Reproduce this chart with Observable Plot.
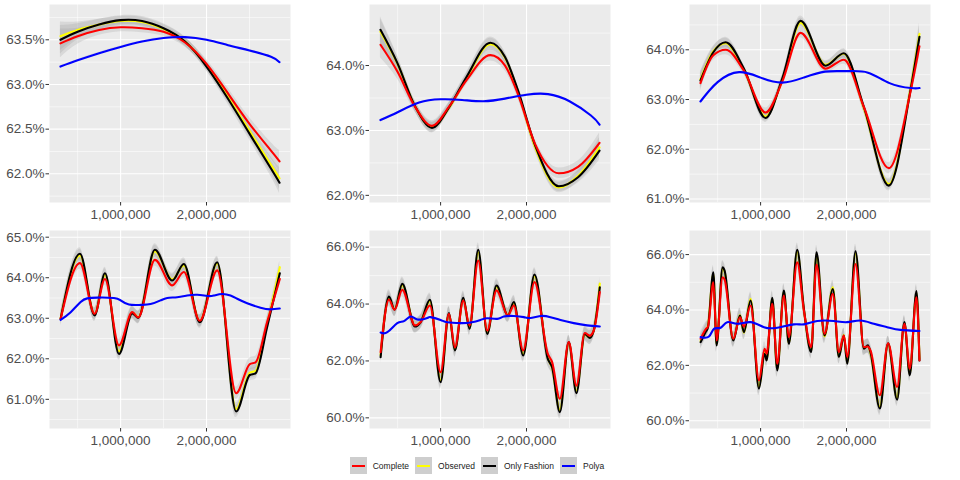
<!DOCTYPE html>
<html><head><meta charset="utf-8">
<script src="https://cdn.jsdelivr.net/npm/d3@7"></script>
<script src="https://cdn.jsdelivr.net/npm/@observablehq/plot@0.6"></script>
<style>
body{margin:0;background:#fff;}
#chart{position:relative;width:960px;height:480px;font-family:"Liberation Sans",Arial,sans-serif;overflow:hidden;}
.panel{position:absolute;}
#legend{position:absolute;top:457px;left:0;width:960px;height:17px;display:flex;justify-content:center;align-items:center;font-size:8.5px;color:#1a1a1a;}
.item{display:flex;align-items:center;margin-right:6px;}
.key{width:17px;height:17px;background:#cecece;position:relative;margin-right:6px;}
.key span{position:absolute;left:2px;right:2px;top:7.5px;height:2px;}
</style></head>
<body><div id="chart"><div id="legend"></div></div>
<script>
// ---- shared x ticks ----
const xMajor = [1000000, 2000000];
const xMinor = [500000, 1500000, 2500000];
const xDomain = [172500, 2977500];

const seriesNames = ["Complete", "Observed", "Only Fashion", "Polya"];
const seriesColors = ["#ff0000", "#ffff00", "#000000", "#0000ff"];

// ---- panel 1 ----
const p1X = [300000, 500000, 750000, 1000000, 1250000, 1500000, 1750000, 2000000, 2250000, 2500000, 2750000, 2850000];
const p1Fashion  = [63.50, 63.59, 63.67, 63.72, 63.71, 63.63, 63.48, 63.20, 62.84, 62.45, 62.06, 61.90];
const p1Observed = [63.54, 63.61, 63.67, 63.71, 63.70, 63.62, 63.48, 63.21, 62.86, 62.48, 62.10, 61.95];
const p1Complete = [63.46, 63.54, 63.61, 63.64, 63.63, 63.59, 63.47, 63.23, 62.90, 62.56, 62.26, 62.14];
const p1Se       = [0.16, 0.09, 0.06, 0.05, 0.05, 0.05, 0.05, 0.05, 0.06, 0.07, 0.09, 0.12];
const p1PolyaX = p1X;
const p1Polya    = [63.20, 63.27, 63.35, 63.42, 63.48, 63.52, 63.53, 63.50, 63.44, 63.38, 63.31, 63.25];
const p1Y = [61.679, 63.895], p1Major = [62, 62.5, 63, 63.5], p1Minor = [61.75, 62.25, 62.75, 63.25, 63.75];

// ---- panel 2 ----
const p2X = [300000, 500000, 700000, 900000, 1100000, 1300000, 1580000, 1750000, 1900000, 2100000, 2376000, 2600000, 2850000];
const p2Fashion  = [64.55, 64.03, 63.38, 63.04, 63.36, 63.82, 64.35, 64.13, 63.62, 62.77, 62.14, 62.28, 62.69];
const p2Observed = [64.52, 64.02, 63.38, 63.05, 63.35, 63.80, 64.33, 64.12, 63.60, 62.74, 62.12, 62.30, 62.74];
const p2Complete = [64.32, 63.90, 63.37, 63.07, 63.37, 63.77, 64.16, 64.00, 63.56, 62.79, 62.34, 62.44, 62.81];
const p2Se       = [0.20, 0.11, 0.08, 0.08, 0.07, 0.07, 0.09, 0.08, 0.07, 0.07, 0.08, 0.09, 0.15];
const p2PolyaX = [300000, 500000, 750000, 1000000, 1250000, 1500000, 1750000, 2000000, 2250000, 2500000, 2750000, 2850000];
const p2Polya    = [63.16, 63.28, 63.43, 63.48, 63.47, 63.45, 63.49, 63.55, 63.56, 63.45, 63.23, 63.09];
const p2Y = [61.89, 64.94], p2Major = [62, 63, 64], p2Minor = [62.5, 63.5, 64.5];

// ---- panel 3 ----
const p3X = [300000, 450000, 593000, 806000, 1058000, 1252000, 1465000, 1756000, 1969000, 2202000, 2492000, 2744000, 2849000];
const p3Fashion  = [63.38, 63.95, 64.15, 63.62, 62.63, 63.42, 64.58, 63.68, 63.93, 62.85, 61.27, 63.18, 64.26];
const p3Observed = [63.40, 63.97, 64.13, 63.60, 62.66, 63.40, 64.54, 63.70, 63.92, 62.82, 61.30, 63.22, 64.32];
const p3Complete = [63.33, 63.89, 64.00, 63.58, 62.74, 63.36, 64.34, 63.62, 63.80, 62.85, 61.62, 63.15, 64.07];
const p3Se       = [0.16, 0.10, 0.10, 0.08, 0.09, 0.08, 0.10, 0.08, 0.09, 0.09, 0.11, 0.12, 0.22];
const p3PolyaX = [300000, 500000, 750000, 1000000, 1250000, 1500000, 1750000, 2000000, 2250000, 2500000, 2750000, 2850000];
const p3Polya    = [62.96, 63.35, 63.55, 63.44, 63.34, 63.44, 63.56, 63.57, 63.54, 63.33, 63.23, 63.23];
const p3Y = [60.93, 64.91], p3Major = [61, 62, 63, 64], p3Minor = [61.5, 62.5, 63.5, 64.5];

// ---- panel 4 ----
const p4X = [302000, 527000, 698000, 818000, 981000, 1136000, 1205000, 1399000, 1601000, 1736000, 1922000, 2124000, 2345000, 2504000, 2570000, 2705000, 2853000];
const p4Fashion  = [62.98, 64.59, 63.07, 64.11, 62.12, 63.12, 63.01, 64.69, 63.93, 64.34, 62.90, 64.38, 60.70, 61.60, 61.64, 62.78, 64.11];
const p4Observed = [63.00, 64.55, 63.10, 64.07, 62.18, 63.14, 63.03, 64.65, 63.96, 64.30, 62.93, 64.35, 60.76, 61.66, 61.70, 62.85, 64.26];
const p4Complete = [62.98, 64.36, 63.11, 63.97, 62.33, 63.15, 63.02, 64.44, 63.81, 64.14, 62.94, 64.18, 61.15, 61.87, 61.91, 62.90, 63.97];
const p4Se = 0.15;
const p4PolyaX = [302000, 419000, 535000, 612000, 729000, 922000, 1000000, 1097000, 1233000, 1349000, 1465000, 1543000, 1659000, 1775000, 1891000, 2008000, 2085000, 2182000, 2279000, 2357000, 2473000, 2628000, 2744000, 2853000];
const p4Polya    = [62.96, 63.15, 63.40, 63.49, 63.51, 63.50, 63.44, 63.34, 63.33, 63.35, 63.44, 63.50, 63.52, 63.56, 63.58, 63.55, 63.56, 63.60, 63.56, 63.48, 63.37, 63.26, 63.22, 63.24];
const p4Y = [60.28, 65.165], p4Major = [61, 62, 63, 64, 65], p4Minor = [60.5, 61.5, 62.5, 63.5, 64.5];

// ---- panel 5 ----
const p5X = [302000, 399000, 465000, 554000, 702000, 767000, 876000, 1000000, 1097000, 1167000, 1264000, 1337000, 1438000, 1543000, 1651000, 1783000, 1853000, 1961000, 2093000, 2248000, 2298000, 2388000, 2492000, 2581000, 2678000, 2736000, 2783000, 2853000];
const p5Fashion  = [62.13, 64.26, 63.80, 64.71, 63.21, 63.36, 64.15, 61.25, 63.68, 62.37, 64.22, 63.13, 65.91, 62.95, 64.65, 63.60, 64.07, 62.19, 65.04, 62.07, 61.78, 60.20, 62.66, 60.87, 62.95, 62.81, 63.07, 64.59];
const p5Observed = [62.20, 64.22, 63.82, 64.66, 63.24, 63.38, 64.10, 61.32, 63.65, 62.40, 64.18, 63.16, 65.82, 62.98, 64.60, 63.62, 64.03, 62.24, 64.98, 62.10, 61.75, 60.28, 62.62, 60.95, 62.92, 62.83, 63.08, 64.72];
const p5Complete = [62.31, 64.15, 63.80, 64.50, 63.25, 63.36, 63.95, 61.60, 63.66, 62.48, 64.12, 63.25, 65.53, 63.07, 64.48, 63.60, 63.95, 62.37, 64.77, 62.25, 61.96, 60.67, 62.66, 61.13, 62.98, 62.89, 63.07, 64.42];
const p5Se = 0.24;
const p5PolyaX = [302000, 380000, 496000, 574000, 651000, 729000, 845000, 884000, 1000000, 1078000, 1233000, 1349000, 1465000, 1543000, 1659000, 1736000, 1853000, 1969000, 2047000, 2163000, 2279000, 2395000, 2550000, 2705000, 2853000];
const p5Polya    = [63.00, 63.01, 63.33, 63.40, 63.56, 63.46, 63.51, 63.54, 63.44, 63.36, 63.33, 63.35, 63.44, 63.50, 63.48, 63.56, 63.58, 63.54, 63.51, 63.58, 63.54, 63.44, 63.33, 63.25, 63.21];
const p5Y = [59.625, 66.586], p5Major = [60, 62, 64, 66], p5Minor = [61, 63, 65];

// ---- panel 6 ----
const p6X = [302000, 360000, 388000, 450000, 488000, 558000, 581000, 682000, 760000, 806000, 884000, 981000, 1047000, 1070000, 1136000, 1194000, 1271000, 1329000, 1426000, 1504000, 1589000, 1651000, 1744000, 1841000, 1911000, 1969000, 2008000, 2105000, 2202000, 2248000, 2279000, 2388000, 2484000, 2589000, 2674000, 2736000, 2814000, 2849000];
const p6Fashion  = [62.84, 63.20, 63.38, 65.36, 62.72, 65.54, 65.42, 62.90, 63.80, 63.20, 64.34, 61.16, 62.42, 62.18, 64.44, 61.82, 64.70, 62.78, 66.17, 64.04, 62.48, 66.08, 63.08, 64.76, 62.30, 63.08, 62.06, 66.12, 62.60, 62.72, 62.48, 60.44, 62.80, 60.76, 63.56, 61.64, 64.68, 62.18];
const p6Observed = [62.88, 63.24, 63.45, 65.30, 62.76, 65.50, 65.38, 62.92, 63.82, 63.18, 64.40, 61.22, 62.45, 62.20, 64.40, 61.86, 64.66, 62.80, 66.10, 64.00, 62.52, 66.00, 63.04, 64.82, 62.32, 63.10, 62.10, 66.05, 62.62, 62.70, 62.44, 60.50, 62.78, 60.82, 63.52, 61.70, 64.62, 62.25];
const p6Complete = [62.96, 63.30, 63.40, 65.00, 62.90, 65.18, 65.10, 62.96, 63.74, 63.40, 64.16, 61.46, 62.60, 62.42, 64.22, 62.06, 64.52, 63.02, 65.72, 63.98, 62.66, 65.64, 63.14, 64.58, 62.48, 63.08, 62.30, 65.66, 62.66, 62.68, 62.54, 60.92, 62.80, 61.22, 63.50, 61.88, 64.46, 62.18];
const p6Se = 0.25;
const p6PolyaX = [302000, 399000, 457000, 535000, 612000, 729000, 884000, 1039000, 1194000, 1388000, 1504000, 1659000, 1853000, 2008000, 2163000, 2318000, 2473000, 2628000, 2849000];
const p6Polya    = [63.02, 63.04, 63.32, 63.36, 63.56, 63.50, 63.56, 63.38, 63.36, 63.48, 63.48, 63.60, 63.60, 63.56, 63.62, 63.50, 63.38, 63.28, 63.24];
const p6Y = [59.72, 66.87], p6Major = [60, 62, 64, 66], p6Minor = [61, 63, 65];

const panels = [
  {x:p1X, f:p1Fashion, o:p1Observed, c:p1Complete, se:p1Se, px:p1PolyaX, p:p1Polya, yd:p1Y, maj:p1Major, min:p1Minor, curve:"natural"},
  {x:p2X, f:p2Fashion, o:p2Observed, c:p2Complete, se:p2Se, px:p2PolyaX, p:p2Polya, yd:p2Y, maj:p2Major, min:p2Minor, curve:"monotone-x"},
  {x:p3X, f:p3Fashion, o:p3Observed, c:p3Complete, se:p3Se, px:p3PolyaX, p:p3Polya, yd:p3Y, maj:p3Major, min:p3Minor, curve:"monotone-x"},
  {x:p4X, f:p4Fashion, o:p4Observed, c:p4Complete, se:p4Se, px:p4PolyaX, p:p4Polya, yd:p4Y, maj:p4Major, min:p4Minor, curve:"monotone-x"},
  {x:p5X, f:p5Fashion, o:p5Observed, c:p5Complete, se:p5Se, px:p5PolyaX, p:p5Polya, yd:p5Y, maj:p5Major, min:p5Minor, curve:"monotone-x"},
  {x:p6X, f:p6Fashion, o:p6Observed, c:p6Complete, se:p6Se, px:p6PolyaX, p:p6Polya, yd:p6Y, maj:p6Major, min:p6Minor, curve:"monotone-x"}
];

function rows(xs, ys, se) {
  return xs.map((x, i) => ({x, y: ys[i], se: Array.isArray(se) ? se[i] : se}));
}

const chart = document.getElementById("chart");
const bandFill = "#9a9a9a", bandOpacity = 0.24;

panels.forEach((P, k) => {
  const col = k % 3, row = Math.floor(k / 3);
  const fa = rows(P.x, P.f, P.se), ob = rows(P.x, P.o, P.se), co = rows(P.x, P.c, P.se), po = rows(P.px, P.p, 0.01);
  const band = (d, curve) => Plot.areaY(d, {x: "x", y1: r => r.y - r.se, y2: r => r.y + r.se, curve, fill: bandFill, fillOpacity: bandOpacity});
  const line = (d, color, curve) => Plot.line(d, {x: "x", y: "y", curve, stroke: color, strokeWidth: 2.1});
  const svg = Plot.plot({
    width: 320, height: 222,
    marginLeft: 49, marginRight: 30, marginTop: 4, marginBottom: 20,
    x: {domain: xDomain},
    y: {domain: P.yd},
    style: {fontFamily: "'Liberation Sans', Arial, sans-serif", fontSize: "13.5px", color: "#4d4d4d", background: "transparent", overflow: "visible"},
    marks: [
      Plot.frame({fill: "#ebebeb", stroke: "none"}),
      Plot.gridY(P.min, {stroke: "#ffffff", strokeOpacity: 1, strokeWidth: 0.55}),
      Plot.gridX(xMinor, {stroke: "#ffffff", strokeOpacity: 1, strokeWidth: 0.55}),
      Plot.gridY(P.maj, {stroke: "#ffffff", strokeOpacity: 1, strokeWidth: 1.1}),
      Plot.gridX(xMajor, {stroke: "#ffffff", strokeOpacity: 1, strokeWidth: 1.1}),
      band(co, P.curve), band(ob, P.curve), band(fa, P.curve), band(po, "natural"),
      line(ob, seriesColors[1], P.curve),
      line(fa, seriesColors[2], P.curve),
      line(co, seriesColors[0], P.curve),
      line(po, seriesColors[3], "natural"),
      Plot.axisY(P.maj, {tickSize: 3.5, tickPadding: 1.5, stroke: "#333333", fill: "#4d4d4d", label: null, tickFormat: d => d.toFixed(1) + "%"}),
      Plot.axisX(xMajor, {tickSize: 3.5, tickPadding: 3.5, stroke: "#333333", fill: "#4d4d4d", label: null, tickFormat: d3.format(",")})
    ]
  });
  svg.classList.add("panel");
  svg.style.left = (col * 320) + "px";
  svg.style.top = (row * 226) + "px";
  chart.appendChild(svg);
});

// ---- legend ----
const legend = document.getElementById("legend");
seriesNames.forEach((name, i) => {
  const item = document.createElement("div");
  item.className = "item";
  const key = document.createElement("div");
  key.className = "key";
  const ln = document.createElement("span");
  ln.style.background = seriesColors[i];
  key.appendChild(ln);
  const lab = document.createElement("div");
  lab.textContent = name;
  item.appendChild(key);
  item.appendChild(lab);
  legend.appendChild(item);
});
</script>
</body></html>
